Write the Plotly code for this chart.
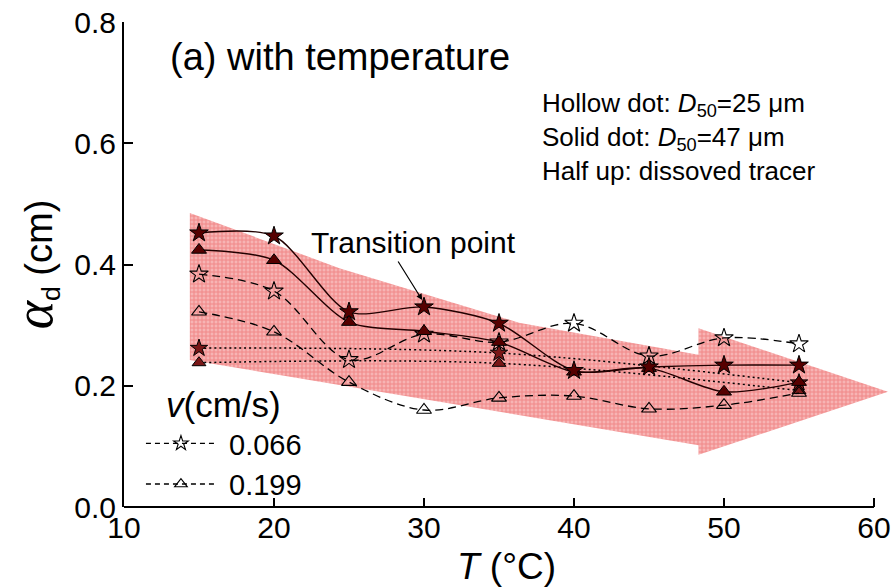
import plotly.graph_objects as go

# ---- data ----
T = [15, 20, 25, 30, 35, 40, 45, 50, 55]
solid_star = [0.452, 0.447, 0.322, 0.330, 0.303, 0.225, 0.231, 0.234, 0.234]   # D50=47um, v=0.066
solid_tri = [0.424, 0.407, 0.305, 0.290, 0.272, 0.223, 0.229, 0.190, 0.206]    # D50=47um, v=0.199
hollow_star = [0.384, 0.356, 0.243, 0.285, 0.272, 0.303, 0.249, 0.279, 0.269]  # D50=25um, v=0.066
hollow_tri = [0.322, 0.289, 0.206, 0.160, 0.180, 0.183, 0.162, 0.168, 0.188]   # D50=25um, v=0.199
T_half = [15, 35, 55]
half_star = [0.262, 0.254, 0.205]   # dissolved tracer, v=0.066
half_tri = [0.238, 0.237, 0.192]    # dissolved tracer, v=0.199

legend_names = [" 0.066", " 0.199"]
x_ticks = [10, 20, 30, 40, 50, 60]
y_ticks = [0, 0.2, 0.4, 0.6, 0.8]

# decorative arrow band (data coordinates)
band_x = [14.39, 24.36, 36.33, 48.30, 48.30, 60.93, 48.30, 48.30, 14.39]
band_y = [0.485, 0.394, 0.304, 0.251, 0.295, 0.190, 0.086, 0.102, 0.2425]

FONT = "Arial, Liberation Sans, sans-serif"
DARK = "#560000"

fig = go.Figure()

fig.add_trace(go.Scatter(
    x=band_x, y=band_y, fill="toself", mode="lines",
    line=dict(width=0, color="rgba(0,0,0,0)"),
    fillcolor="#f49d9d",
    fillpattern=dict(shape="+", fgcolor="#e95a5a", bgcolor="#f7b4b4", size=4, solidity=0.45),
    hoverinfo="skip", showlegend=False))

# dotted (half-up, dissolved tracer)
fig.add_trace(go.Scatter(
    x=T_half, y=half_star, mode="lines+markers", line_shape="spline",
    line=dict(color="black", width=1.5, dash="2px,3px"),
    marker=dict(symbol="star", size=13, color="#7a1818", line=dict(color="black", width=1)),
    showlegend=False))
fig.add_trace(go.Scatter(
    x=T_half, y=half_tri, mode="lines+markers", line_shape="spline",
    line=dict(color="black", width=1.5, dash="2px,3px"),
    marker=dict(symbol="triangle-up", size=12, color="#7a1818", line=dict(color="black", width=1)),
    showlegend=False))

# dashed (hollow, D50 = 25 um)
fig.add_trace(go.Scatter(
    x=T, y=hollow_star, mode="lines+markers", line_shape="spline",
    line=dict(color="black", width=1.3, dash="8px,5px"),
    marker=dict(symbol="star-open", size=14, color="black", line=dict(width=1.1)),
    showlegend=False))
fig.add_trace(go.Scatter(
    x=T, y=hollow_tri, mode="lines+markers", line_shape="spline",
    line=dict(color="black", width=1.3, dash="8px,5px"),
    marker=dict(symbol="triangle-up-open", size=13, color="black", line=dict(width=1.1)),
    showlegend=False))

# solid (D50 = 47 um)
fig.add_trace(go.Scatter(
    x=T, y=solid_tri, mode="lines+markers", line=dict(color="#220000", width=1.4, shape="spline", smoothing=0.8),
    marker=dict(symbol="triangle-up", size=13, color=DARK, line=dict(color="black", width=1)),
    showlegend=False))
fig.add_trace(go.Scatter(
    x=T, y=solid_star, mode="lines+markers", line=dict(color="#220000", width=1.4, shape="spline", smoothing=0.8),
    marker=dict(symbol="star", size=14, color=DARK, line=dict(color="black", width=1)),
    showlegend=False))

# legend-only entries (small markers as in the reference legend)
fig.add_trace(go.Scatter(
    x=[None], y=[None], mode="lines+markers", name=legend_names[0],
    line=dict(color="black", width=1.4, dash="5px,4px"),
    marker=dict(symbol="star-open", size=11, color="black", line=dict(width=1.1))))
fig.add_trace(go.Scatter(
    x=[None], y=[None], mode="lines+markers", name=legend_names[1],
    line=dict(color="black", width=1.4, dash="5px,4px"),
    marker=dict(symbol="triangle-up-open", size=11, color="black", line=dict(width=1.1))))

ann = [
    dict(text="(a) with temperature", x=(168 - 124) / 767, y=(507 - 57) / 485, xref="paper", yref="paper",
         xanchor="left", yanchor="middle", showarrow=False, font=dict(size=38)),
    dict(text="Hollow dot: <i>D</i><sub>50</sub>=25 μm", x=(541 - 124) / 767, y=(507 - 105) / 485,
         xref="paper", yref="paper", xanchor="left", yanchor="middle", showarrow=False, font=dict(size=26)),
    dict(text="Solid dot: <i>D</i><sub>50</sub>=47 μm", x=(541 - 124) / 767, y=(507 - 138) / 485,
         xref="paper", yref="paper", xanchor="left", yanchor="middle", showarrow=False, font=dict(size=26)),
    dict(text="Half up: dissoved tracer", x=(541 - 124) / 767, y=(507 - 171) / 485,
         xref="paper", yref="paper", xanchor="left", yanchor="middle", showarrow=False, font=dict(size=26)),
    dict(text="Transition point", x=(309 - 124) / 767, y=(507 - 242) / 485, xref="paper", yref="paper",
         xanchor="left", yanchor="middle", showarrow=False, font=dict(size=30)),
    dict(text="<i>v</i>(cm/s)", x=(164 - 124) / 767, y=(507 - 404) / 485, xref="paper", yref="paper",
         xanchor="left", yanchor="middle", showarrow=False, font=dict(size=35)),
    dict(text="", x=29.88, y=0.3414, xref="x", yref="y", showarrow=True,
         ax=-25, ay=-40, arrowhead=2, arrowsize=1, arrowwidth=1.2, arrowcolor="black"),
]

fig.update_layout(
    width=892, height=588,
    margin=dict(l=124, r=1, t=22, b=81),
    paper_bgcolor="white", plot_bgcolor="white",
    font=dict(family=FONT, color="black", size=26),
    annotations=ann,
    showlegend=True,
    legend=dict(
        x=(141 - 124) / 767, y=(507 - 418) / 485, xanchor="left", yanchor="top",
        bgcolor="rgba(0,0,0,0)", itemwidth=70, tracegroupgap=0,
        font=dict(size=29)),
    shapes=[dict(type="line", xref="x", yref="paper", x0=10, x1=60, y0=0, y1=0,
                 line=dict(color="black", width=2))],
)

fig.update_xaxes(
    range=[10, 61], tickvals=x_ticks, ticks="inside", ticklen=9,
    tickwidth=1.5, tickcolor="black", showline=False, showgrid=False, zeroline=False,
    tickfont=dict(size=30), ticklabeloverflow="allow",
    title=dict(text="<i>T</i> (°C)", font=dict(size=37), standoff=10))
fig.update_yaxes(
    range=[0, 0.8], tickvals=y_ticks, tickformat=".1f", ticks="inside",
    ticklen=9, tickwidth=1.5, tickcolor="black", showline=True, linewidth=2,
    linecolor="black", showgrid=False, zeroline=False, tickfont=dict(size=30),
    title=dict(text='<span style="font-family:Liberation Serif;font-size:54px"><i>α</i></span>'
                    '<sub>d</sub> (cm)', font=dict(size=38), standoff=10))

fig.write_html("out.html")
